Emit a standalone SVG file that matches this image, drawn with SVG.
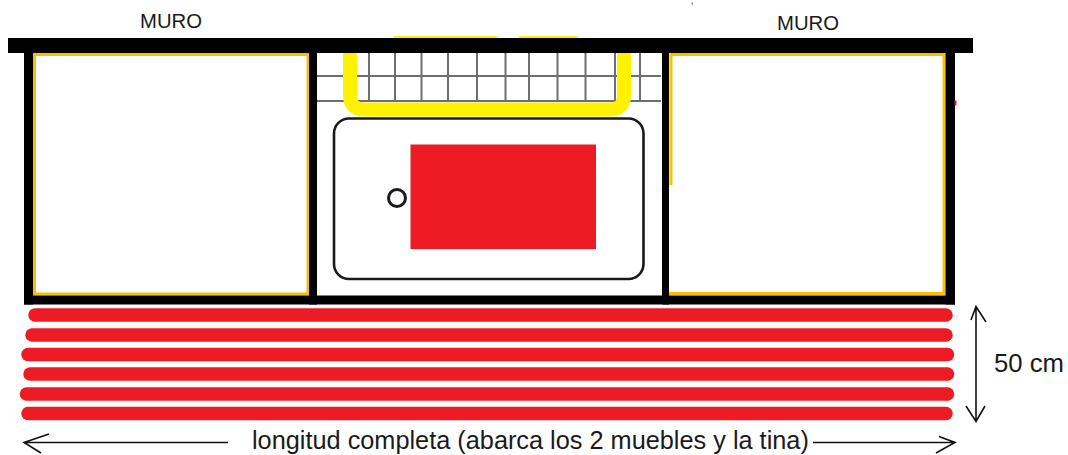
<svg xmlns="http://www.w3.org/2000/svg" width="1068" height="455" viewBox="0 0 1068 455">
  <style>
    text { font-family: "Liberation Sans", Arial, sans-serif; fill: #1a1a1a; }
    .wall { fill: #000; }
    .cab { fill: none; stroke: #f7c100; stroke-width: 3; }
    .tile { stroke: #6e6e6e; stroke-width: 2; fill: none; }
    .stripe { stroke: #ed1c24; stroke-width: 13.500; stroke-linecap: round; fill: none; }
    .dim { stroke: #111; stroke-width: 1.600; fill: none; }
  </style>
  <rect width="1068" height="455" fill="#fff"/>

  <g id="tiles">
    <path class="tile" d="M317 76H661M317 101H661M369 53V101M395 53V101M421.500 53V101M448 53V101M477 53V101M505.500 53V101M529 53V101M557.500 53V101M585.500 53V101M615 53V101M640 53V101"/>
  </g>
  <g id="yellow-frame">
    <path d="M350 53V95Q350 109.500 364 109.500H610Q624 109.500 624 95V53" fill="none" stroke="#fff200" stroke-width="14"/>
    <rect x="394" y="36" width="103" height="2.500" fill="#fff200"/>
    <rect x="519" y="36" width="59" height="2.500" fill="#fff200"/>
  </g>
  <g id="left-cabinet">
    <rect class="cab" x="34.500" y="54.500" width="273.500" height="239.500"/>
  </g>
  <g id="right-cabinet">
    <path class="cab" d="M671 185V54.500H944V293.500H668"/>
  </g>
  <g id="walls">
    <rect class="wall" x="8" y="38" width="965" height="15"/>
    <rect class="wall" x="24" y="38" width="9" height="266.500"/>
    <rect class="wall" x="309" y="38" width="8" height="266.500"/>
    <rect class="wall" x="662" y="38" width="7" height="266.500"/>
    <rect class="wall" x="945.500" y="38" width="9.500" height="266.500"/>
    <rect class="wall" x="24" y="295.500" width="931" height="9"/>
    <rect x="954.500" y="100.500" width="2" height="5" fill="#ed1c24"/>
    <rect x="691.500" y="2.500" width="1.500" height="2" fill="#888"/>
  </g>
  <g id="tub">
    <rect x="334" y="118.500" width="309.500" height="160.500" rx="15" ry="15" fill="none" stroke="#1a1a1a" stroke-width="2.600"/>
    <rect x="410.500" y="144.500" width="185.500" height="104.500" fill="#ed1c24"/>
    <circle cx="397" cy="198" r="8.500" fill="#fff" stroke="#1a1a1a" stroke-width="3"/>
  </g>
  <g id="red-stripes">
    <path class="stripe" d="M35 315H946"/>
    <path class="stripe" d="M32 335H946"/>
    <path class="stripe" d="M28 354.500H947.500"/>
    <path class="stripe" d="M30 374H947.500"/>
    <path class="stripe" d="M26.500 394H947.500"/>
    <path class="stripe" d="M28 413.500H946"/>
  </g>
  <g id="connectors">
    <path class="dim" d="M24 442.500H228M49 434L24 442.500L41 453"/>
    <path class="dim" d="M813 442.500H955M939 436.500L955 442.500L936 453"/>
    <path class="dim" d="M976 306.500V421.500M971 320L976 306.500L986 322M966 406L976 421.500L985 406"/>
  </g>
  <g id="labels">
    <text x="140" y="27.500" font-size="20.300">MURO</text>
    <text x="777" y="29.500" font-size="20.300">MURO</text>
    <text x="994" y="372" font-size="25.700">50 cm</text>
    <text x="252" y="449" font-size="25.300">longitud completa (abarca los 2 muebles y la tina)</text>
  </g>
</svg>
